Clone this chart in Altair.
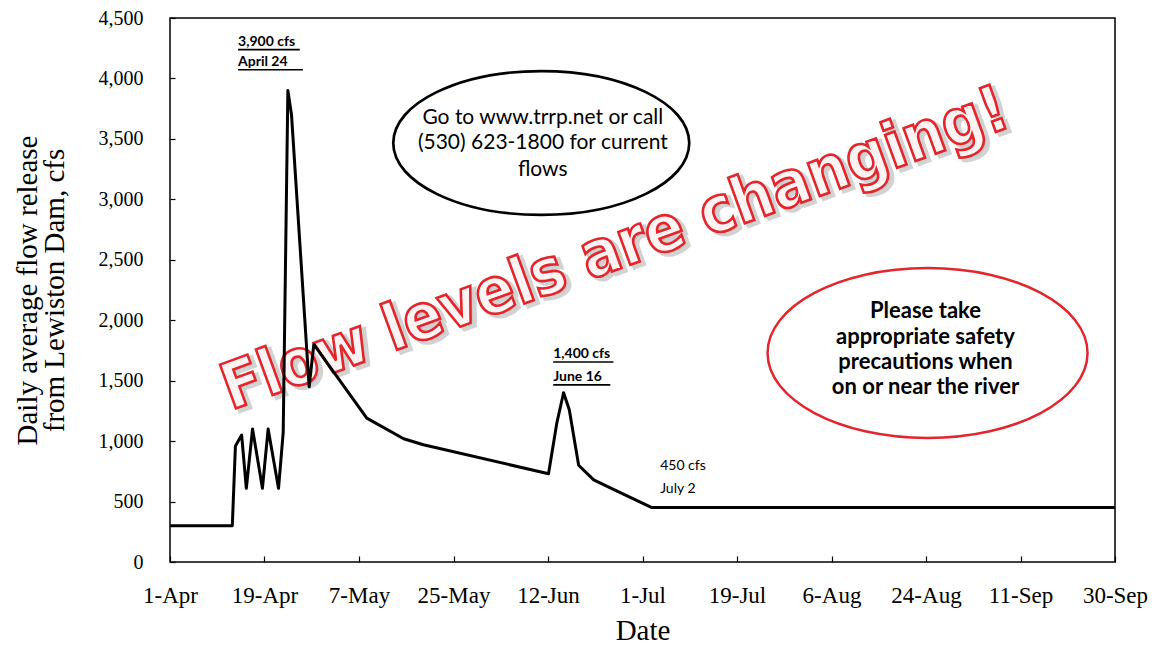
import json
import altair as alt
import pandas as pd

# ---- data ----
day_offsets = [0, 12, 12.6, 13.8, 14.7, 15.9, 17.8, 18.9, 20.9, 21.8, 22.7, 23.4,
               26.8, 27.7, 37.9, 45.0, 48.8, 72.9, 74.5, 75.8, 76.9, 78.7, 81.6,
               85.4, 92.8, 182]
flow_cfs = [300, 300, 960, 1050, 610, 1100, 610, 1100, 610, 1070, 3900, 3700,
            1450, 1800, 1190, 1020, 970, 730, 1150, 1400, 1260, 800, 680,
            600, 450, 450]

x_tick_days = [0, 18.2, 36.4, 54.6, 72.8, 91, 109.2, 127.4, 145.6, 163.8, 182]
x_tick_labels = ["1-Apr", "19-Apr", "7-May", "25-May", "12-Jun", "1-Jul",
                 "19-Jul", "6-Aug", "24-Aug", "11-Sep", "30-Sep"]
y_ticks = [0, 500, 1000, 1500, 2000, 2500, 3000, 3500, 4000, 4500]

peak_labels = ["3,900 cfs", "April 24", "1,400 cfs", "June 16"]
base_labels = ["450 cfs", "July 2"]
info_lines = ["Go to www.trrp.net or call", "(530) 623-1800 for current", "flows"]
safety_lines = ["Please take", "appropriate safety", "precautions when", "on or near the river"]
banner = "Flow levels are changing!"

# ---- shared encodings ----
label_expr = json.dumps(x_tick_labels) + "[round(datum.value / 18.2)]"
SERIF = "Liberation Serif"
SANS = "Lato"

X = alt.X("day:Q",
          scale=alt.Scale(domain=[0, 182], nice=False, zero=False),
          axis=alt.Axis(values=x_tick_days, labelExpr=label_expr, orient="bottom",
                        offset=-6, tickSize=6, tickColor="black", tickWidth=1.2,
                        domain=False, grid=False, labelFont=SERIF, labelFontSize=23,
                        labelColor="black", labelPadding=22, labelFlush=False,
                        labelOverlap=False, titleFont=SERIF, titleFontSize=29,
                        titleFontWeight="normal", titleColor="black", titlePadding=9),
          title="Date")
Y = alt.Y("cfs:Q",
          scale=alt.Scale(domain=[0, 4500], nice=False),
          axis=alt.Axis(values=y_ticks, format=",d", orient="left", offset=-5,
                        tickSize=5, tickColor="black", tickWidth=1.2, domain=False,
                        grid=False, labelFont=SERIF, labelFontSize=20,
                        labelColor="black", labelPadding=27, labelFlush=False,
                        labelOverlap=False, titleFont=SERIF, titleFontSize=29,
                        titleFontWeight="normal", titleColor="black",
                        titlePadding=29, titleLineHeight=27),
          title=["Daily average flow release", "from Lewiston Dam, cfs"])

flow = pd.DataFrame({"day": day_offsets, "cfs": flow_cfs})
line = alt.Chart(flow).mark_line(color="black", strokeWidth=3,
                                 strokeJoin="round").encode(X, Y)

# ---- peak annotations (bold, underlined) ----
peak_df = pd.DataFrame({"day": [13.1, 13.1, 73.8, 73.8],
                        "cfs": [4300, 4135, 1720, 1530],
                        "label": peak_labels})
peak_text = alt.Chart(peak_df).mark_text(align="left", baseline="middle", font=SANS,
                                         fontSize=14, fontWeight="bold",
                                         color="black").encode(X, Y, text="label:N")
under_df = pd.DataFrame({"day": [13.1, 13.1, 73.8, 73.8],
                         "day2": [25.0, 25.6, 85.4, 84.8],
                         "cfs": [4238, 4072, 1655, 1465]})
under = alt.Chart(under_df).mark_rule(color="black", strokeWidth=1.6).encode(
    X, alt.X2("day2:Q"), Y)

base_df = pd.DataFrame({"day": [94.4, 94.4], "cfs": [794, 604], "label": base_labels})
base_text = alt.Chart(base_df).mark_text(align="left", baseline="middle", font=SANS,
                                         fontSize=14, color="black").encode(X, Y, text="label:N")

# ---- ellipses ----
def ellipse_path(r):
    k = 0.5523
    return (f"M -1 0 C -1 {-k*r:.4f} {-k:.4f} {-r:.4f} 0 {-r:.4f} "
            f"C {k:.4f} {-r:.4f} 1 {-k*r:.4f} 1 0 "
            f"C 1 {k*r:.4f} {k:.4f} {r:.4f} 0 {r:.4f} "
            f"C {-k:.4f} {r:.4f} -1 {k*r:.4f} -1 0 Z")

ell1 = alt.Chart(pd.DataFrame({"day": [71.5], "cfs": [3466]})).mark_point(
    shape=ellipse_path(0.486), size=296 ** 2, filled=False, stroke="black",
    strokeWidth=2.7, opacity=1).encode(X, Y)
ell2 = alt.Chart(pd.DataFrame({"day": [145.9], "cfs": [1729]})).mark_point(
    shape=ellipse_path(0.531), size=320 ** 2, filled=False, stroke="#e3262c",
    strokeWidth=2.5, opacity=1).encode(X, Y)

info_df = pd.DataFrame({"day": [71.8] * 3, "cfs": [3672, 3466, 3242], "label": info_lines})
info_text = alt.Chart(info_df).mark_text(align="center", baseline="middle", font=SANS,
                                         fontSize=21, color="black").encode(X, Y, text="label:N")
safety_df = pd.DataFrame({"day": [145.5] * 4, "cfs": [2076, 1861, 1654, 1448],
                          "label": safety_lines})
safety_text = alt.Chart(safety_df).mark_text(align="center", baseline="middle", font=SANS,
                                             fontSize=22, fontWeight="bold",
                                             color="black").encode(X, Y, text="label:N")

# ---- banner ----
BANNER_FONT = "DejaVu Sans Condensed, DejaVu Sans"
banner_df = pd.DataFrame({"day": [85.8], "cfs": [2580], "label": [banner]})
shadow = alt.Chart(banner_df).mark_text(align="center", baseline="middle",
                                        font=BANNER_FONT, fontSize=64, fontWeight="bold",
                                        angle=340, dx=3, dy=4, fill="#b5b5b5",
                                        stroke="#c4c4c4", strokeWidth=4,
                                        opacity=0.75).encode(X, Y, text="label:N")
banner_text = alt.Chart(banner_df).mark_text(align="center", baseline="middle",
                                             font=BANNER_FONT, fontSize=64,
                                             fontWeight="bold", angle=340, fill="#fff4f4",
                                             stroke="#e3262c",
                                             strokeWidth=2.6).encode(X, Y, text="label:N")

chart = alt.layer(peak_text, under, base_text, ell1, ell2, info_text,
                  safety_text, shadow, banner_text, line).properties(
    width=945, height=544,
    autosize=alt.AutoSizeParams(type="none"),
    padding={"left": 162, "top": 10, "right": 34, "bottom": 86},
    background="white",
).configure_view(stroke="black", strokeWidth=1.5)

chart.save("out.html", embed_options={"renderer": "svg", "actions": False})
